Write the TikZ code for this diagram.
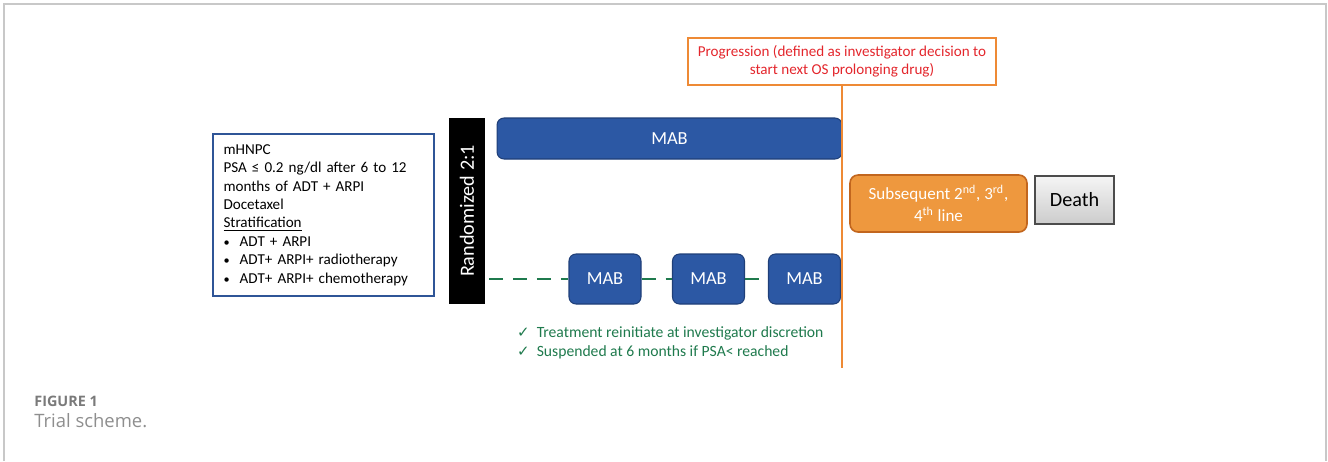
\documentclass[tikz,border=0pt]{standalone}
\usepackage{fontspec}
\setmainfont{Carlito}
\newfontfamily\capfont{Open Sans}
\newfontfamily\symfont{DejaVu Sans}
\usetikzlibrary{positioning}
\definecolor{mabblue}{HTML}{2C58A4}
\definecolor{mabline}{HTML}{1F3F78}
\definecolor{boxblue}{HTML}{2F5597}
\definecolor{armgreen}{HTML}{1F7A4D}
\definecolor{progorange}{HTML}{EE8A35}
\definecolor{subfill}{HTML}{EE983E}
\definecolor{subline}{HTML}{C2661E}
\definecolor{progred}{HTML}{E3262C}
\definecolor{framegray}{HTML}{C8C8C8}
\definecolor{capgray}{HTML}{7A7A7A}
\begin{document}
\begin{tikzpicture}
[x=0.02cm, y=-0.02cm,
mab/.style={draw=mabline,fill=mabblue,text=white,rounded corners=0.14cm,
    font=\fontsize{10.5}{12}\selectfont,line width=0.6pt},
offline/.style={draw=armgreen,line width=1.6pt,dash pattern=on 0.28cm off 0.2cm}
]
\useasboundingbox (0,0) rectangle (1328,461);
\draw[framegray,line width=0.8pt] (4,461) -- (4,4) -- (1326,4) -- (1326,461);
%\draw[help lines] (0,0) grid[step=1cm] (1328,461);

\node[draw=boxblue,line width=1.2pt,text width=4.0cm,inner xsep=0.21cm,
      minimum height=3.24cm,align=left,font=\fontsize{8.6}{10.5}\selectfont]
      (inc) at (323.5,215)
      {mHNPC\\
       PSA ≤ 0.2 ng/dl after 6 to 12\\
       months of ADT + ARPI\\
       Docetaxel\\
       \underline{Stratification}\\
       {\scriptsize\textbullet}\ \ ADT + ARPI\\
       {\scriptsize\textbullet}\ \ ADT+ ARPI+ radiotherapy\\
       {\scriptsize\textbullet}\ \ ADT+ ARPI+ chemotherapy};

\node[fill=black,minimum width=0.72cm,minimum height=3.72cm,inner sep=0pt]
      (rand) at (467,211) {};
\node[text=white,rotate=90,font=\fontsize{11.5}{13}\selectfont] at (rand) {Randomized 2:1};

\node[mab,minimum width=6.9cm,minimum height=0.82cm] (mabtop) at (669.5,138.5) {MAB};

\node[mab,minimum width=1.44cm,minimum height=1.0cm] (mab1) at (605,279) {MAB};
\node[mab,minimum width=1.44cm,minimum height=1.0cm] (mab2) at (708.5,279) {MAB};
\node[mab,minimum width=1.44cm,minimum height=1.0cm] (mab3) at (804.5,279) {MAB};

\coordinate (armstart) at (489,279);
\draw[offline] (armstart) -- (mab1.west);
\draw[offline] (mab1.east) -- (mab2.west);
\draw[offline] (mab2.east) -- (mab3.west);

\node[draw=progorange,line width=1.2pt,minimum width=6.16cm,minimum height=0.94cm,
      align=center,text=progred,font=\fontsize{8.6}{10.5}\selectfont]
      (prog) at (842,61.5)
      {Progression (defined as investigator decision to\\start next OS prolonging drug)};
\coordinate (progend) at (842,368);
\draw[progorange,line width=1.6pt] (prog.south) -- (progend);

\node[draw=subline,fill=subfill,line width=0.9pt,rounded corners=0.16cm,
      minimum width=3.54cm,minimum height=1.14cm,align=center,text=white,
      font=\fontsize{9.7}{12.5}\selectfont]
      (subs) at (938.5,203.5)
      {Subsequent 2\textsuperscript{nd}, 3\textsuperscript{rd},\\4\textsuperscript{th} line};

\node[draw=black!70,line width=0.8pt,top color=black!4,bottom color=black!20,
      minimum width=1.58cm,minimum height=0.96cm,font=\fontsize{11.5}{13}\selectfont]
      (death) at (1074.5,200) {Death};

\node[anchor=west,align=left,text=armgreen,font=\fontsize{8.9}{10.5}\selectfont]
      (notes) at (511,343)
      {{\symfont\fontsize{8.5}{9}\selectfont ✓}\ \ Treatment reinitiate at investigator discretion\\
       {\symfont\fontsize{8.5}{9}\selectfont ✓}\ \ Suspended at 6 months if PSA< reached};

\node[anchor=west,text=capgray,font=\capfont\bfseries\fontsize{8.2}{9}\selectfont,inner sep=0pt]
      (fig) at (34,401) {FIGURE 1};
\node[anchor=west,text=capgray!85,font=\capfont\fontsize{10.5}{12}\selectfont,inner sep=0pt]
      (capt) at (34,421) {Trial scheme.};
\end{tikzpicture}
\end{document}
